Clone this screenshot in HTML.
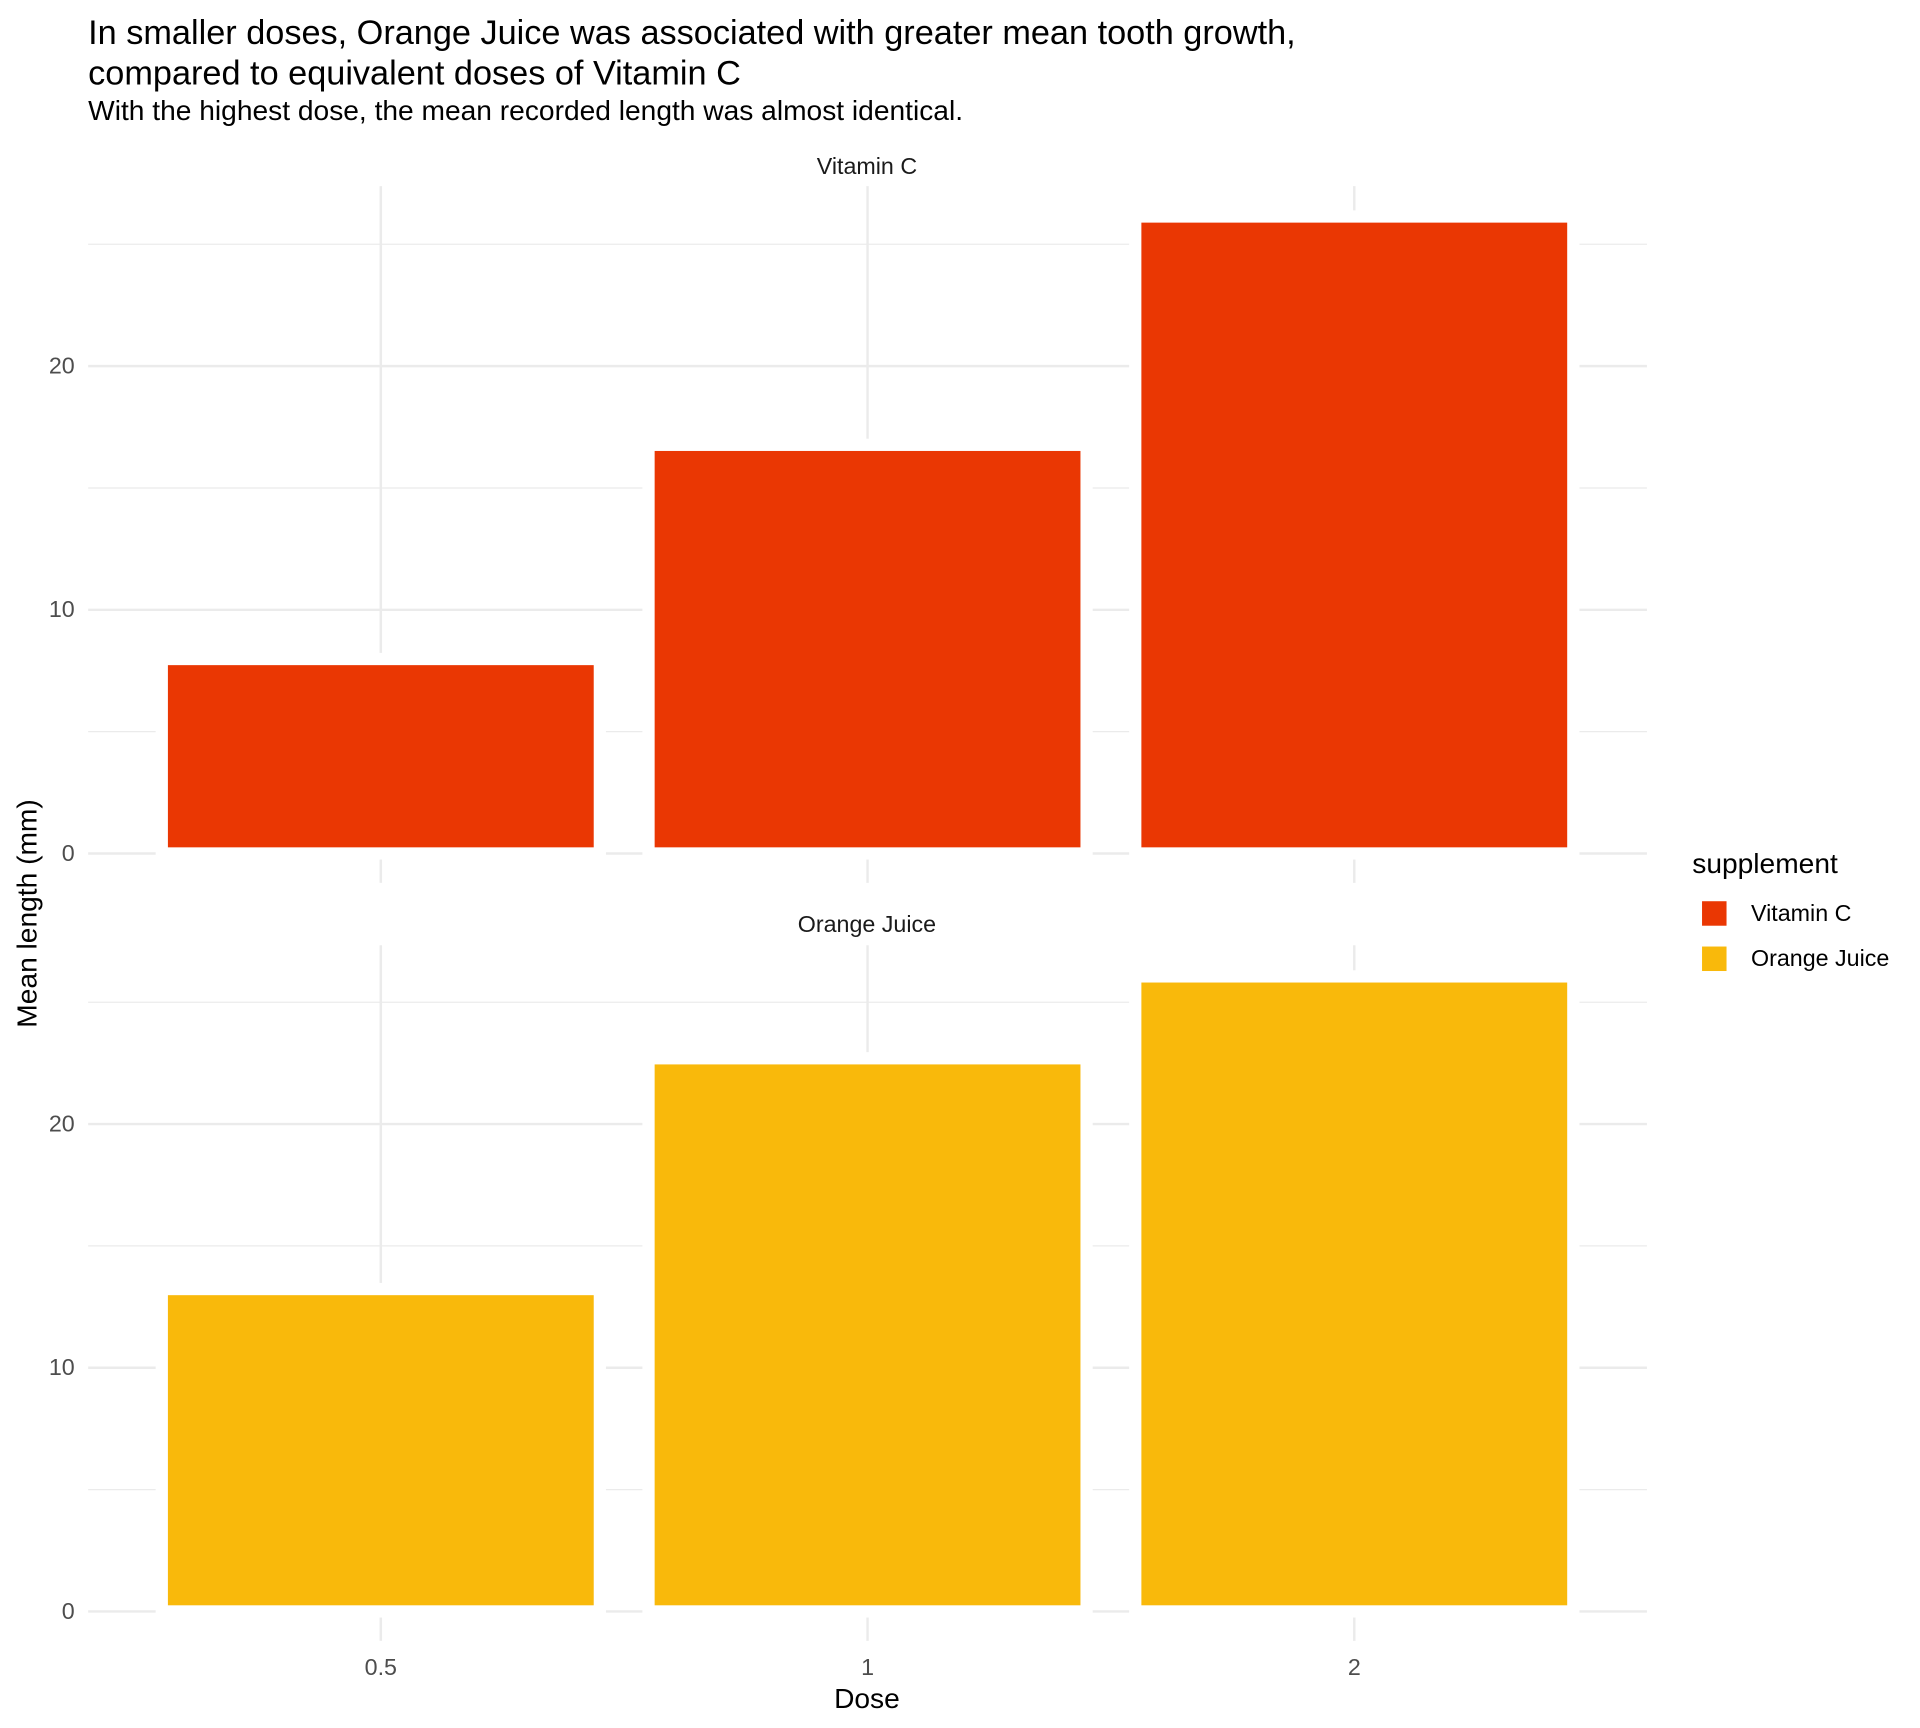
<!DOCTYPE html>
<html><head><meta charset="utf-8"><style>html,body{margin:0;padding:0;background:#fff;}svg{display:block;}</style></head>
<body>
<svg id="chart" width="1920" height="1728" viewBox="0 0 1568 1411.2" xmlns="http://www.w3.org/2000/svg" font-family="Liberation Sans, Arial, sans-serif">
<text x="72" y="36" font-size="28" fill="#000">In smaller doses, Orange Juice was associated with greater mean tooth growth,</text>
<text x="72" y="69" font-size="28" fill="#000">compared to equivalent doses of Vitamin C</text>
<text x="72" y="98" font-size="23" fill="#000">With the highest dose, the mean recorded length was almost identical.</text>
<g id="panels"></g>
<text x="708" y="1395" font-size="23" text-anchor="middle" fill="#000">Dose</text>
<text transform="translate(30,746) rotate(-90)" font-size="23" text-anchor="middle" fill="#000">Mean length (mm)</text>
<g>
<text x="1382" y="713" font-size="23" fill="#000">supplement</text>
<rect x="1390" y="736" width="20" height="20" fill="#EA3703"/>
<text x="1430" y="752" font-size="19" fill="#000">Vitamin C</text>
<rect x="1390" y="773" width="20" height="20" fill="#F9B90B"/>
<text x="1430" y="789" font-size="19" fill="#000">Orange Juice</text>
</g>
</svg>
<script>
const doses = ["0.5", "1", "2"];
const panelNames = ["Vitamin C", "Orange Juice"];
const vitaminC = [7.98, 16.77, 26.14];
const orangeJuice = [13.23, 22.70, 26.06];
const yTicks = [0, 10, 20];
const yMinor = [5, 15, 25];

const NS = "http://www.w3.org/2000/svg";
const g = document.getElementById("panels");
const xLeft = 72, xRight = 1345;
const xStep = 397.5, xFirst = 311;
function xScale(i){ return xFirst + i * xStep; }
const panels = [
  {name: panelNames[0], vals: vitaminC, zero: 697, top: 152, color: "#EA3703", strip: 142},
  {name: panelNames[1], vals: orangeJuice, zero: 1316, top: 772, color: "#F9B90B", strip: 761}
];
const pxPerUnit = 19.9;
function mk(tag, attrs){ const e = document.createElementNS(NS, tag); for (const k in attrs) e.setAttribute(k, attrs[k]); return e; }
panels.forEach((p, pi) => {
  const yScale = v => p.zero - v * pxPerUnit;
  const bottom = p.zero + 24;
  yMinor.forEach(v => {
    const l = mk("line", {x1: xLeft, x2: xRight, y1: yScale(v), y2: yScale(v), stroke: "#ebebeb", "stroke-width": 1});
    
    
    g.appendChild(l);
  });
  yTicks.forEach(v => {
    const l = mk("line", {x1: xLeft, x2: xRight, y1: yScale(v), y2: yScale(v), stroke: "#ebebeb", "stroke-width": 2});
    
    
    g.appendChild(l);
    const t = mk("text", {x: 61, y: yScale(v) + 6, "font-size": 19, "text-anchor": "end", fill: "#4d4d4d"});
    t.textContent = v;
    
    
    g.appendChild(t);
  });
  doses.forEach((d, i) => {
    const l = mk("line", {x1: xScale(i), x2: xScale(i), y1: p.top, y2: bottom, stroke: "#ebebeb", "stroke-width": 2});
    
    
    g.appendChild(l);
  });
  doses.forEach((d, i) => {
    const w = 0.9 * xStep;
    const v = p.vals[i];
    const r = mk("rect", {x: xScale(i) - w / 2, y: yScale(v), width: w, height: v * pxPerUnit, fill: p.color, stroke: "#fff", "stroke-width": 10});
    
    
    g.appendChild(r);
  });
  const s = mk("text", {x: 708, y: p.strip, "font-size": 19, "text-anchor": "middle", fill: "#1a1a1a"});
  s.textContent = p.name;
  
  
  g.appendChild(s);
});
doses.forEach((d, i) => {
  const t = mk("text", {x: xScale(i), y: 1368, "font-size": 19, "text-anchor": "middle", fill: "#4d4d4d"});
  t.textContent = d;
  
  
  g.appendChild(t);
});
</script>
</body></html>
